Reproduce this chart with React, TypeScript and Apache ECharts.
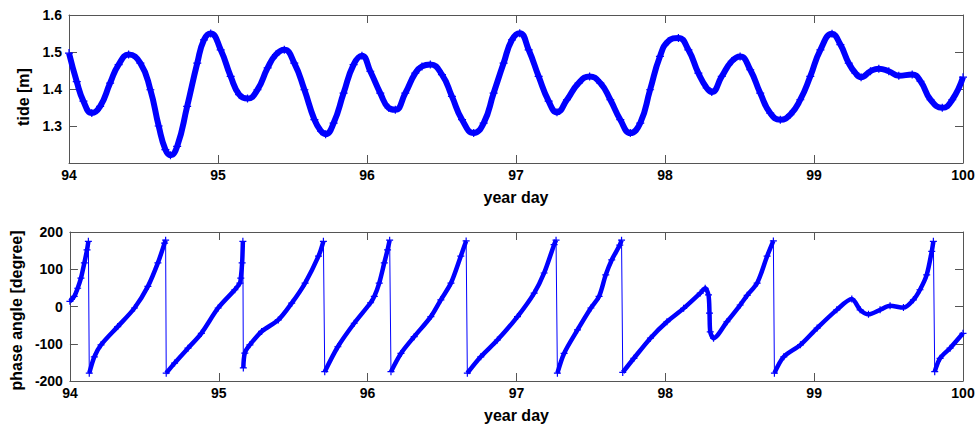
import React, { useEffect, useRef } from "react";
import * as echarts from "echarts";

// ---- Tide (top panel) ----
const tideDay = [
  94.0, 94.052, 94.097, 94.153, 94.209, 94.276, 94.333, 94.4, 94.479, 94.546,
  94.602, 94.647, 94.681, 94.726, 94.793, 94.861, 94.906, 94.951, 95.018, 95.085,
  95.142, 95.198, 95.265, 95.333, 95.389, 95.445, 95.512, 95.58, 95.647, 95.692,
  95.722, 95.776, 95.843, 95.91, 95.966, 96.022, 96.089, 96.145, 96.19, 96.257,
  96.324, 96.369, 96.425, 96.503, 96.57, 96.638, 96.716, 96.783, 96.85, 96.917,
  96.973, 97.025, 97.085, 97.152, 97.219, 97.275, 97.342, 97.42, 97.494, 97.566,
  97.633, 97.7, 97.767, 97.834, 97.9, 97.966, 98.022, 98.09, 98.157, 98.224,
  98.28, 98.314, 98.381, 98.448, 98.504, 98.572, 98.639, 98.706, 98.774, 98.841,
  98.908, 98.975, 99.043, 99.121, 99.177, 99.233, 99.278, 99.316, 99.379, 99.435,
  99.502, 99.569, 99.659, 99.715, 99.782, 99.861, 99.928, 100.0,
];
const tideM = [
  1.497, 1.42, 1.367, 1.335, 1.353, 1.416, 1.466, 1.493, 1.47, 1.398,
  1.3, 1.236, 1.221, 1.245, 1.353, 1.47, 1.533, 1.55, 1.506, 1.434,
  1.385, 1.374, 1.398, 1.457, 1.493, 1.506, 1.47, 1.398, 1.317, 1.286,
  1.278, 1.308, 1.389, 1.466, 1.49, 1.448, 1.389, 1.349, 1.344, 1.389,
  1.443, 1.461, 1.466, 1.439, 1.38, 1.317, 1.281, 1.308, 1.389, 1.47,
  1.533, 1.551, 1.506, 1.434, 1.367, 1.337, 1.371, 1.416, 1.434, 1.416,
  1.371, 1.317, 1.281, 1.308, 1.398, 1.488, 1.529, 1.538, 1.506, 1.443,
  1.403, 1.392, 1.434, 1.475, 1.488, 1.452, 1.389, 1.335, 1.317, 1.331,
  1.371, 1.434, 1.506, 1.549, 1.52, 1.47, 1.443, 1.432, 1.448, 1.455,
  1.448, 1.436, 1.439, 1.421, 1.371, 1.349, 1.371, 1.432,
];

// ---- Phase angle (bottom panel) ----
const phaseDay = [
  94.0, 94.029, 94.052, 94.074, 94.097, 94.115, 94.124,
  94.13, 94.164, 94.209, 94.321, 94.434, 94.524, 94.591, 94.636, 94.643,
  94.647, 94.703, 94.793, 94.883, 94.996, 95.108, 95.142, 95.148, 95.157, 95.162,
  95.165, 95.175, 95.209, 95.288, 95.4, 95.49, 95.58, 95.67, 95.703,
  95.712, 95.8, 95.91, 96.02, 96.045, 96.078, 96.112, 96.134, 96.148,
  96.157, 96.224, 96.313, 96.425, 96.492, 96.56, 96.626, 96.662,
  96.67, 96.76, 96.872, 97.007, 97.119, 97.186, 97.253, 97.266,
  97.275, 97.32, 97.41, 97.5, 97.555, 97.6, 97.64, 97.694, 97.706,
  97.714, 97.789, 97.9, 98.011, 98.123, 98.235, 98.268, 98.29, 98.297, 98.302,
  98.324, 98.414, 98.503, 98.55, 98.617, 98.684, 98.726,
  98.733, 98.796, 98.908, 99.02, 99.152, 99.253, 99.309, 99.365, 99.443, 99.51,
  99.6, 99.667, 99.711, 99.756, 99.79, 99.801,
  99.81, 99.846, 99.913, 100.0,
];
const phaseDeg = [
  14, 27, 49, 76, 117, 152, 175,
  -179, -135, -103, -54, -4, 54, 117, 170, 178,
  -179, -152, -112, -72, -4, 45, 63, 76, 117, 175,
  -165, -125, -103, -67, -36, 9, 63, 135, 175,
  -175, -108, -45, 10, 27, 63, 117, 152, 178,
  -175, -126, -81, -27, 18, 63, 135, 176,
  -179, -135, -90, -27, 36, 90, 166, 178,
  -179, -126, -63, -4, 27, 85, 125, 165, 178,
  -177, -139, -85, -41, -5, 36, 49, 31, -18, -68,
  -85, -41, 4, 30, 63, 135, 176,
  -179, -135, -103, -58, -9, 20, -9, -21, -9, 2,
  -3, 18, 45, 85, 148, 175,
  -175, -139, -112, -72,
];

const xTicks = { min: 94, max: 100, interval: 1 };
const tideTicks = { min: 1.2, max: 1.6, interval: 0.1 };
const phaseTicks = { min: -200, max: 200, interval: 100 };

const BLUE = "#0000ff";
const AXIS = "#555555";
const FONT = "'Liberation Sans', Arial, Helvetica, sans-serif";
const CROSS = "path://M0,5L10,5M5,0L5,10";

function splitSegments(xs: number[], ys: number[]) {
  const segs: number[][][] = [];
  let cur: number[][] = [];
  for (let i = 0; i < xs.length; i++) {
    if (i > 0 && Math.abs(ys[i] - ys[i - 1]) > 250) {
      segs.push(cur);
      cur = [];
    }
    cur.push([xs[i], ys[i]]);
  }
  if (cur.length) segs.push(cur);
  return segs;
}

const lineAxis = { show: true, onZero: false, lineStyle: { color: AXIS, width: 1 } };
const tickIn = { show: true, inside: true, length: 8, lineStyle: { color: AXIS } };

function xAxisPair(gridIndex: number, withName: boolean) {
  return [
    {
      type: "value",
      gridIndex,
      position: "bottom",
      ...xTicks,
      axisLine: lineAxis,
      axisTick: tickIn,
      axisLabel: {
        margin: 5,
        color: "#000",
        fontFamily: FONT,
        fontWeight: "bold",
        fontSize: 14,
        formatter: (v: number) => String(Math.round(v)),
      },
      splitLine: { show: false },
      name: withName ? "year day" : "",
      nameLocation: "middle",
      nameGap: 26,
      nameTextStyle: { color: "#000", fontFamily: FONT, fontWeight: "bold", fontSize: 16 },
    },
    {
      type: "value",
      gridIndex,
      position: "top",
      ...xTicks,
      axisLine: lineAxis,
      axisTick: tickIn,
      axisLabel: { show: false },
      splitLine: { show: false },
    },
  ];
}

function yAxisPair(
  gridIndex: number,
  ticks: any,
  name: string,
  gap: number,
  shiftDown: number,
  fmt: (v: number) => string
) {
  return [
    {
      type: "value",
      gridIndex,
      position: "left",
      ...ticks,
      axisLine: lineAxis,
      axisTick: tickIn,
      axisLabel: {
        margin: 7,
        color: "#000",
        fontFamily: FONT,
        fontWeight: "bold",
        fontSize: 14,
        formatter: fmt,
      },
      splitLine: { show: false },
      name,
      nameLocation: "middle",
      nameGap: gap,
      nameRotate: 90,
      nameTextStyle: {
        color: "#000",
        fontFamily: FONT,
        fontWeight: "bold",
        fontSize: 16,
        padding: [0, shiftDown * 2, 0, 0],
      },
    },
    {
      type: "value",
      gridIndex,
      position: "right",
      ...ticks,
      axisLine: lineAxis,
      axisTick: tickIn,
      axisLabel: { show: false },
      splitLine: { show: false },
    },
  ];
}

export default function App() {
  const ref = useRef<HTMLDivElement>(null);

  useEffect(() => {
    if (!ref.current) return;
    const chart = echarts.init(ref.current, undefined, { renderer: "svg" });

    const tideData = tideDay.map((d, i) => [d, tideM[i]]);
    const phaseAll = phaseDay.map((d, i) => [d, phaseDeg[i]]);
    const segs = splitSegments(phaseDay, phaseDeg);

    const markerStyle = {
      color: BLUE,
      borderColor: BLUE,
      borderWidth: 1.2,
    };

    const series: any[] = [
      {
        type: "line",
        xAxisIndex: 0,
        yAxisIndex: 0,
        data: tideData,
        smooth: 0.5,
        lineStyle: { color: BLUE, width: 6 },
        symbol: CROSS,
        symbolSize: 8,
        itemStyle: markerStyle,
        z: 3,
      },
      {
        type: "line",
        xAxisIndex: 2,
        yAxisIndex: 2,
        data: phaseAll,
        smooth: false,
        lineStyle: { color: BLUE, width: 1 },
        showSymbol: false,
        symbol: "none",
        z: 2,
      },
    ];
    segs.forEach((seg) => {
      series.push({
        type: "line",
        xAxisIndex: 2,
        yAxisIndex: 2,
        data: seg,
        smooth: 0.3,
        lineStyle: { color: BLUE, width: 4.5 },
        symbol: CROSS,
        symbolSize: 7,
        itemStyle: markerStyle,
        z: 3,
      });
    });

    chart.setOption({
      animation: false,
      backgroundColor: "#ffffff",
      grid: [
        { left: 69, top: 15, width: 894, height: 148, show: false },
        { left: 69, top: 232, width: 894, height: 149, show: false },
      ],
      xAxis: [...xAxisPair(0, true), ...xAxisPair(1, true)],
      yAxis: [
        ...yAxisPair(0, tideTicks, "tide [m]", 30, 8, (v: number) => (v < 1.25 ? "" : v.toFixed(1))),
        ...yAxisPair(1, phaseTicks, "phase angle [degree]", 39, 4, (v: number) => String(Math.round(v))),
      ],
      series,
    });

    return () => chart.dispose();
  }, []);

  return (
    <div
      ref={ref}
      style={{ position: "fixed", left: 0, top: 0, width: 980, height: 434, background: "#fff" }}
    />
  );
}
